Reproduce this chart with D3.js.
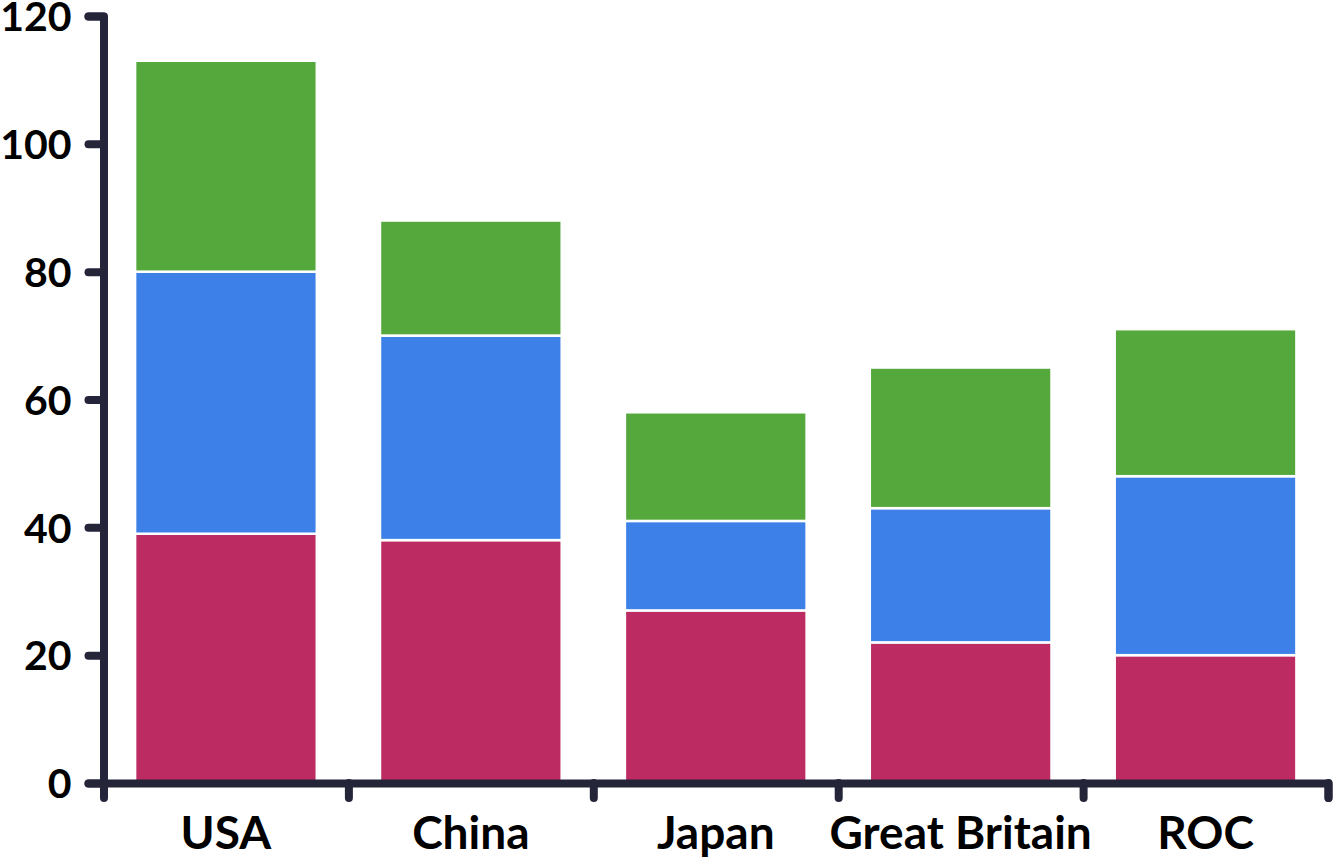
<!DOCTYPE html>
<html><head><meta charset="utf-8">
<script src="https://cdn.jsdelivr.net/npm/d3@7"></script>
<style>
html,body{margin:0;padding:0;background:#fff;}
svg{display:block;}
text{font-family:"Lato","Noto Sans",sans-serif;font-weight:700;fill:#000;}
</style></head>
<body>
<svg id="chart" width="1334" height="858"></svg>
<script>
const countries = ["USA","China","Japan","Great Britain","ROC"];
const gold   = [39,38,27,22,20];
const silver = [41,32,14,21,28];
const bronze = [33,18,17,22,23];
const seriesKeys = ["gold","silver","bronze"];
const seriesColors = ["#bc2c63","#3c80e8","#55a93c"];
const yTicks = [0,20,40,60,80,100,120];

(function(){
const svg = d3.select("#chart");
const mLeft = 103.5, mRight = 1328, mTop = 16, mBottom = 783;
const axisColor = "#25253a";

const rows = countries.map((c,i)=>({country:c, gold:gold[i], silver:silver[i], bronze:bronze[i]}));
const stacked = d3.stack().keys(seriesKeys)(rows);

const x = d3.scaleBand().domain(countries).range([mLeft,mRight]).paddingInner(0.258).paddingOuter(0.129);
const xb = d3.scaleLinear().domain([0,countries.length]).range([mLeft,mRight]);
const y = d3.scaleLinear().domain([0,120]).range([mBottom,mTop]);
const color = d3.scaleOrdinal().domain(seriesKeys).range(seriesColors);

svg.append("g").selectAll("g").data(stacked).join("g")
  .attr("fill", d=>color(d.key))
  .selectAll("rect").data(d=>d).join("rect")
  .attr("x", d=>x(d.data.country))
  .attr("width", x.bandwidth())
  .attr("y", d=>y(d[1]))
  .attr("height", d=>y(d[0])-y(d[1]))
  .attr("stroke","#fff").attr("stroke-width",2.5);

function styleAxis(g){
  g.selectAll("path,line").attr("stroke",axisColor).attr("stroke-width",8)
   .attr("stroke-linecap","round").attr("stroke-linejoin","round");
}

const gy = svg.append("g").attr("transform",`translate(${mLeft},0)`)
  .call(d3.axisLeft(y).tickValues(yTicks).tickSize(15).tickPadding(17));
styleAxis(gy);
gy.selectAll("text").attr("font-size",41).attr("dy","0.36em").attr("fill","#000");

const gx = svg.append("g").attr("transform",`translate(0,${mBottom})`)
  .call(d3.axisBottom(xb).tickValues(d3.range(1,countries.length+1)).tickSize(15).tickFormat(""));
styleAxis(gx);

const gl = svg.append("g").attr("transform",`translate(0,${mBottom})`)
  .call(d3.axisBottom(x).tickSize(0).tickPadding(33));
gl.select(".domain").remove();
gl.selectAll("text").attr("font-size",46).attr("fill","#000");
})();
</script>
</body></html>
